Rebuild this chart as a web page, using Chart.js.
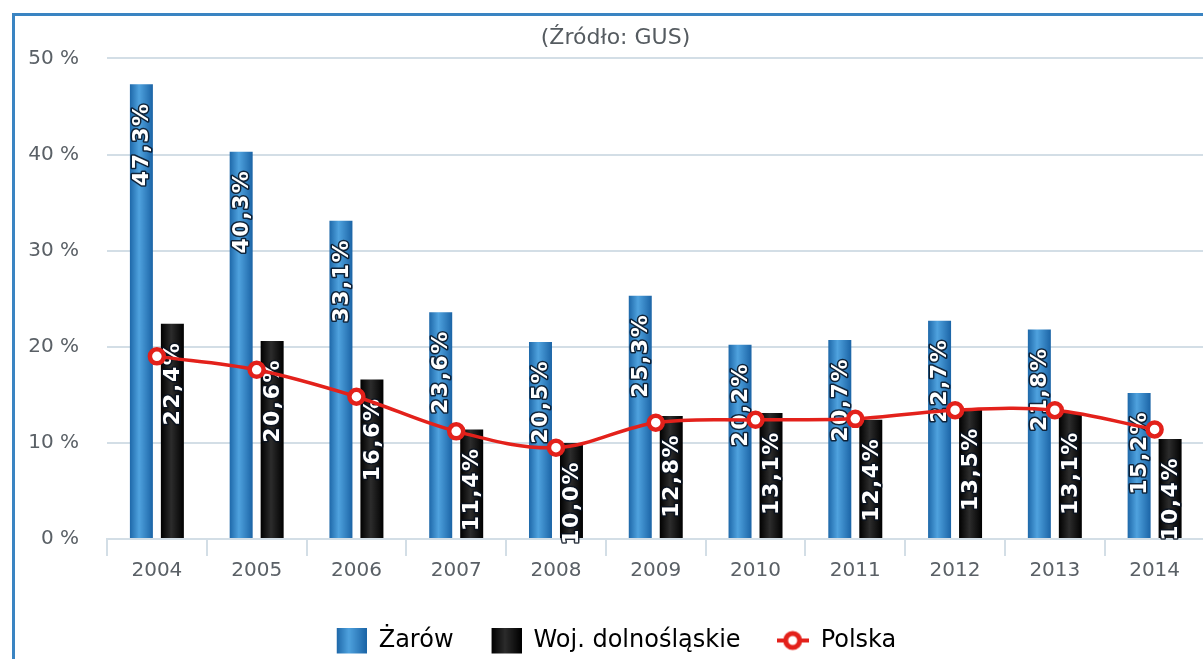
<!DOCTYPE html>
<html>
<head>
<meta charset="utf-8">
<script src="https://cdn.jsdelivr.net/npm/chart.js@4.4.1/dist/chart.umd.min.js"></script>
<style>
  html, body { margin: 0; padding: 0; background: #fff; overflow: hidden; width: 1203px; height: 659px; }
  .frame { position: absolute; left: 12px; top: 13px; width: 1300px; height: 700px;
           border-left: 3px solid #3a84c2; border-top: 3px solid #3a84c2; }
  .box { position: absolute; left: 15px; top: 16px; width: 1201px; height: 647px; }
</style>
</head>
<body>
<div class="frame"></div>
<div class="box"><canvas id="bezrobocie"></canvas></div>
<script>
// dane: stopa bezrobocia (GUS)
const years = ['2004', '2005', '2006', '2007', '2008', '2009', '2010', '2011', '2012', '2013', '2014'];
const zarow = [47.3, 40.3, 33.1, 23.6, 20.5, 25.3, 20.2, 20.7, 22.7, 21.8, 15.2];
const wojDolnoslaskie = [22.4, 20.6, 16.6, 11.4, 10.0, 12.8, 13.1, 12.4, 13.5, 13.1, 10.4];
const polska = [19.0, 17.6, 14.8, 11.2, 9.5, 12.1, 12.4, 12.5, 13.4, 13.4, 11.4];
const yTicks = [0, 10, 20, 30, 40, 50];

const FONT = '"DejaVu Sans", sans-serif';
const GRID = '#d3dee6';
const RED = '#e3211b';

function blueGrad(ctx, x0, x1) {
    const g = ctx.createLinearGradient(x0, 0, x1, 0);
    g.addColorStop(0, '#1e68a9');
    g.addColorStop(0.4, '#4fa2de');
    g.addColorStop(1, '#1b64a6');
    return g;
}
function blackGrad(ctx, x0, x1) {
    const g = ctx.createLinearGradient(x0, 0, x1, 0);
    g.addColorStop(0, '#000');
    g.addColorStop(0.45, '#2c2c2c');
    g.addColorStop(1, '#000');
    return g;
}

// ikonki legendy
function squareIcon(gradFn) {
    const c = document.createElement('canvas');
    c.width = 32; c.height = 27;
    const x = c.getContext('2d');
    x.fillStyle = gradFn(x, 2, 32);
    x.fillRect(2, 0, 30, 26);
    return c;
}
function lineIcon() {
    const c = document.createElement('canvas');
    c.width = 32; c.height = 27;
    const x = c.getContext('2d');
    x.strokeStyle = RED;
    x.lineWidth = 4;
    x.beginPath(); x.moveTo(0, 13); x.lineTo(32, 13); x.stroke();
    x.lineWidth = 5;
    x.fillStyle = '#fff';
    x.beginPath(); x.arc(16, 13, 7, 0, Math.PI * 2); x.fill(); x.stroke();
    return c;
}
const icons = [squareIcon(blueGrad), squareIcon(blackGrad), lineIcon()];

// gradient na slupkach
const barGradient = {
    id: 'barGradient',
    beforeDatasetsDraw(chart) {
        const ctx = chart.ctx;
        chart.data.datasets.forEach((ds, i) => {
            if (ds.type !== 'bar') return;
            chart.getDatasetMeta(i).data.forEach(bar => {
                const fn = i === 0 ? blueGrad : blackGrad;
                const g = fn(ctx, bar.x - bar.width / 2, bar.x + bar.width / 2);
                bar.options = Object.assign({}, bar.options, { backgroundColor: g });
            });
        });
    }
};

// etykiety pionowe w slupkach
const barLabels = {
    id: 'barLabels',
    afterDatasetDraw(chart, args) {
        const ds = chart.data.datasets[args.index];
        if (ds.type !== 'bar') return;
        const ctx = chart.ctx;
        ctx.save();
        ctx.font = 'bold 22px ' + FONT;
        ctx.letterSpacing = '1.5px';
        ctx.textAlign = 'right';
        ctx.textBaseline = 'middle';
        ctx.lineJoin = 'round';
        ctx.lineWidth = 3;
        ctx.strokeStyle = 'rgba(8,18,32,0.85)';
        ctx.fillStyle = '#fff';
        args.meta.data.forEach((bar, i) => {
            const text = ds.data[i].toFixed(1).replace('.', ',') + '%';
            ctx.save();
            ctx.translate(bar.x + 1, bar.y + 18);
            ctx.rotate(-Math.PI / 2);
            ctx.strokeText(text, 0, 0);
            ctx.fillText(text, 0, 0);
            ctx.restore();
        });
        ctx.restore();
    }
};

const ctx = document.getElementById('bezrobocie').getContext('2d');
new Chart(ctx, {
    data: {
        labels: years,
        datasets: [
            {
                type: 'bar',
                label: 'Żarów',
                data: zarow,
                backgroundColor: '#2f84c6',
                categoryPercentage: 0.621,
                barPercentage: 0.742,
                order: 1
            },
            {
                type: 'bar',
                label: 'Woj. dolnośląskie',
                data: wojDolnoslaskie,
                backgroundColor: '#111',
                categoryPercentage: 0.621,
                barPercentage: 0.742,
                order: 1
            },
            {
                type: 'line',
                label: 'Polska',
                data: polska,
                borderColor: RED,
                borderWidth: 3.5,
                tension: 0.35,
                pointRadius: 7,
                pointBorderWidth: 4.5,
                pointBackgroundColor: '#fff',
                pointBorderColor: RED,
                order: 0
            }
        ]
    },
    options: {
        responsive: true,
        maintainAspectRatio: false,
        animation: false,
        layout: { padding: 0 },
        plugins: {
            title: {
                display: true,
                text: '(Źródło: GUS)',
                color: '#555b60',
                font: { family: FONT, size: 22, weight: 'normal' },
                padding: { top: 9, bottom: 7 }
            },
            legend: {
                position: 'bottom',
                labels: {
                    usePointStyle: true,
                    pointStyleWidth: 32,
                    padding: 36,
                    color: '#2a2a2a',
                    font: { family: FONT, size: 24 },
                    generateLabels: (chart) => chart.data.datasets.map((ds, i) => ({
                        text: ds.label,
                        pointStyle: icons[i],
                        fillStyle: 'transparent',
                        strokeStyle: 'transparent',
                        lineWidth: 0,
                        hidden: false,
                        datasetIndex: i
                    }))
                }
            },
            tooltip: { enabled: false }
        },
        scales: {
            x: {
                offset: true,
                grid: {
                    offset: true,
                    drawOnChartArea: false,
                    color: GRID,
                    lineWidth: 2,
                    tickLength: 17
                },
                border: { color: GRID, width: 2 },
                ticks: { color: '#5a6066', padding: 3, font: { family: FONT, size: 20 } },
                afterFit: (s) => { s.height = 54; }
            },
            y: {
                min: 0,
                max: 50,
                afterBuildTicks: (s) => { s.ticks = yTicks.map(v => ({ value: v })); },
                grid: { color: GRID, lineWidth: 2, drawTicks: false },
                border: { display: false },
                ticks: {
                    color: '#5a6066',
                    padding: 28,
                    font: { family: FONT, size: 20 },
                    callback: (v) => v + ' %'
                },
                afterFit: (s) => { s.width = 92; }
            }
        }
    },
    plugins: [barGradient, barLabels]
});
</script>
</body>
</html>
